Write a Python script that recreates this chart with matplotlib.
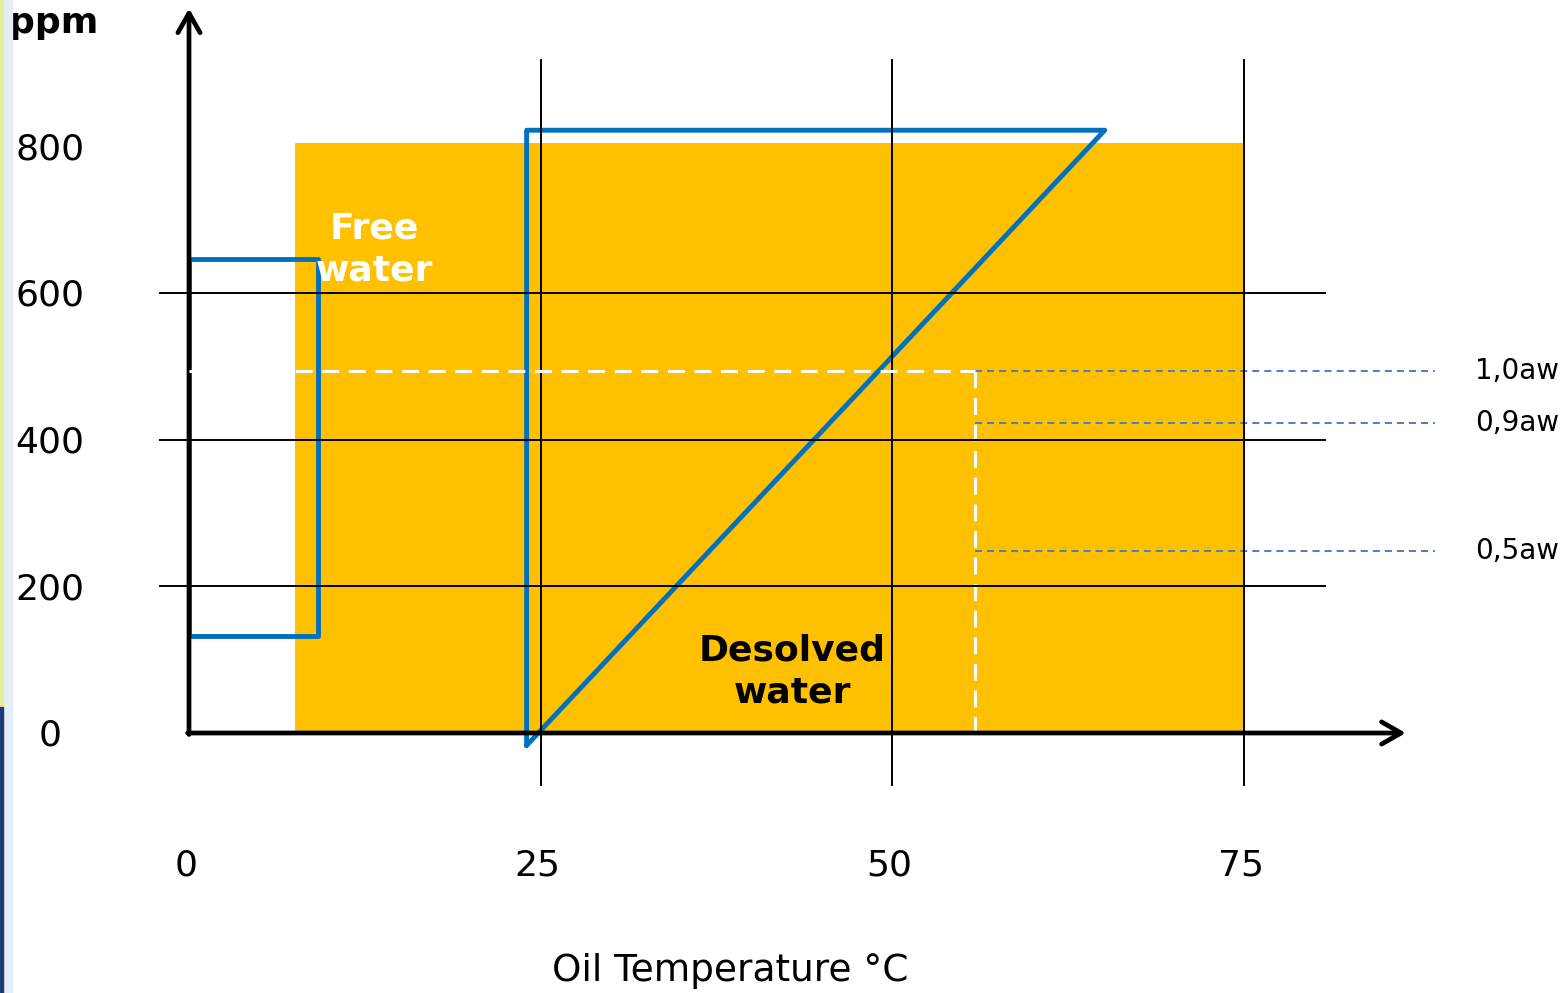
"""
Water in oil: free vs dissolved water against oil temperature (schematic).
"""

import matplotlib
matplotlib.use("Agg")
import matplotlib.pyplot as plt
from matplotlib.patches import Rectangle

# ---- data ---------------------------------------------------------------
temp_ticks = [0, 25, 50, 75]
ppm_ticks = [0, 200, 400, 600, 800]
grid_ppm = [200, 400, 600]
grid_temp = [25, 50, 75]

# shaded region (temperature span, ppm top)
region_temp = [7.5, 75.0]
region_ppm_top = 805

# "free water" step outline
free_x = [0, 9.2, 9.2, 0, 0]
free_y = [646, 646, 132, 132, 646]

# dissolved-water saturation outline
sat_x = [24.0, 24.0, 65.1, 24.0]
sat_y = [-17, 822, 822, -17]

# saturation point at 1,0aw
sat_point_temp = 55.9
sat_point_ppm = 494

aw_labels = ["1,0aw", "0,9aw", "0,5aw"]
aw_ppm = [494, 423, 248]
aw_line_end = 88.6

# ---- scale (px per unit in the 1567x993 picture) -------------------------
PX_C = 14.067
PX_PPM = 0.7333
X0_PX, Y0_PX = 189, 733
W, H = 1567, 993

ORANGE = "#FFC000"
BLUE = "#0070C0"
AW_BLUE = "#4A7EC5"
FS = 26

fig = plt.figure(figsize=(W / 100, H / 100), dpi=100)
ax = fig.add_axes([0, 0, 1, 1])
ax.set_xlim(-X0_PX / PX_C, (W - X0_PX) / PX_C)
ax.set_ylim(-(H - Y0_PX) / PX_PPM, Y0_PX / PX_PPM)
ax.axis("off")

# screenshot edge strip
fig.patches.append(Rectangle((3 / W, 0), 9 / W, 1, transform=fig.transFigure,
                             color="#E4EEFA", zorder=0))
fig.patches.append(Rectangle((0, 286 / H), 3 / W, 1 - 286 / H,
                             transform=fig.transFigure, color="#E6EE9A", zorder=0))
fig.patches.append(Rectangle((0, 0), 3 / W, 286 / H, transform=fig.transFigure,
                             color="#1F3A7A", zorder=0))

# shaded region
ax.add_patch(Rectangle((region_temp[0], 0), region_temp[1] - region_temp[0],
                       region_ppm_top, color=ORANGE, lw=0, zorder=1))

# white dashed saturation guide
ax.plot([sat_point_temp, sat_point_temp], [sat_point_ppm, 0], color="white",
        lw=2.2, dashes=(5.5, 3.2), zorder=2)
ax.plot([0, sat_point_temp], [sat_point_ppm, sat_point_ppm], color="white",
        lw=2.2, dashes=(5.5, 3.2), zorder=6)

# aw guide lines
for lab, p in zip(aw_labels, aw_ppm):
    ax.plot([sat_point_temp, aw_line_end], [p, p], color=AW_BLUE, lw=1.4,
            dashes=(3.6, 2.6), zorder=2)
    ax.text(91.4, p, lab, fontsize=20, ha="left", va="center")

# blue outlines
ax.plot(free_x, free_y, color=BLUE, lw=3.5, solid_joinstyle="round", zorder=3)
ax.plot(sat_x, sat_y, color=BLUE, lw=3.5, solid_joinstyle="round",
        solid_capstyle="round", zorder=3)

# grid lines
for p in grid_ppm:
    ax.plot([-2.06, 80.76], [p, p], color="black", lw=1.4, zorder=4)
for t in grid_temp:
    ax.plot([t, t], [-71, 918], color="black", lw=1.4, zorder=4)

# axes with open arrow heads
arrow = dict(arrowstyle="->,head_length=0.7,head_width=0.4", lw=3.4,
             color="black", shrinkA=0, shrinkB=0, mutation_scale=20)
ax.annotate("", xy=(0, 988), xytext=(0, -2), arrowprops=arrow, zorder=5)
ax.annotate("", xy=(86.5, 0), xytext=(-0.1, 0), arrowprops=arrow, zorder=5)

# tick labels
for p in ppm_ticks:
    ax.text(-9.9, p - 4, str(p), fontsize=FS, ha="center", va="center")
for t in temp_ticks:
    ax.text(t - 0.2, -181, str(t), fontsize=FS, ha="center", va="center")

ax.text(-12.8, 968, "ppm", fontsize=FS, fontweight="bold", ha="left",
        va="center")
ax.text(38.5, -325, "Oil Temperature °C", fontsize=27, ha="center",
        va="center")

ax.text(13.2, 659, "Free\nwater", fontsize=FS, fontweight="bold",
        color="white", ha="center", va="center", linespacing=1.3, zorder=6)
ax.text(42.9, 84, "Desolved\nwater", fontsize=FS, fontweight="bold",
        color="black", ha="center", va="center", linespacing=1.3, zorder=6)

fig.savefig("out.png", dpi=100)
